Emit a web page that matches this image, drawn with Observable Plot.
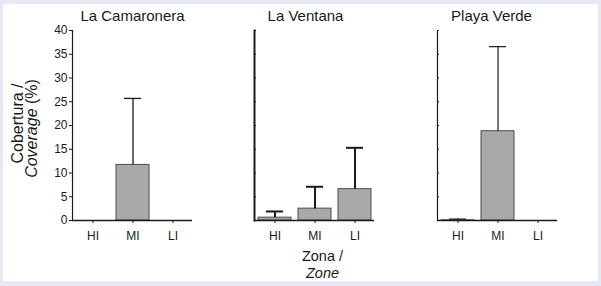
<!DOCTYPE html>
<html>
<head>
<meta charset="utf-8">
<script src="https://cdn.jsdelivr.net/npm/d3@7"></script>
<script src="https://cdn.jsdelivr.net/npm/@observablehq/plot@0.6"></script>
<style>
  html, body { margin: 0; padding: 0; }
  body { width: 601px; height: 286px; background: #e6e9f4; position: relative; overflow: hidden; }
  #inner { position: absolute; left: 3px; top: 4px; width: 595px; height: 277px; background: #ffffff; }
  .panel { position: absolute; top: 0; }
</style>
</head>
<body>
<div id="inner"></div>
<div id="p1" class="panel" style="left:0px"></div>
<div id="p2" class="panel" style="left:200px"></div>
<div id="p3" class="panel" style="left:382px"></div>
<script>
// ---- data ----
const zones = ["HI", "MI", "LI"];
const sites = ["La Camaronera", "La Ventana", "Playa Verde"];
const camaroneraMean  = [0, 11.7, 0];
const camaroneraUpper = [0, 25.7, 0];
const ventanaMean     = [0.6, 2.5, 6.6];
const ventanaUpper    = [1.9, 7.1, 15.3];
const playaMean       = [0.05, 18.8, 0];
const playaUpper      = [0.3, 36.6, 0];
const yTicks = [0, 5, 10, 15, 20, 25, 30, 35, 40];
const yLabel1 = "Cobertura /";
const yLabel2a = "Coverage";
const yLabel2b = " (%)";
const xLabel1 = "Zona /";
const xLabel2 = "Zone";

const FONT = "'Liberation Sans', Arial, Helvetica, sans-serif";
const INK = "#1a1a1a";

function rows(mean, upper) {
  return zones.map((z, i) => ({zone: z, mean: mean[i], upper: upper[i]}));
}

function makePanel({title, mean, upper, marginLeft, marginRight, labels, axisWidth, errWidth, titleDx, extra}) {
  const data = rows(mean, upper);
  const shown = data.filter(d => d.upper > 0);
  const bars = data.filter(d => d.mean > 0);
  const width = marginLeft + 120 + marginRight;
  const marks = [
    Plot.barY(bars, {x: "zone", y: "mean", fill: "#a9a9a9", stroke: "#4d4d4d", strokeWidth: 1}),
    Plot.ruleX(shown, {x: "zone", y1: "mean", y2: "upper", stroke: INK, strokeWidth: errWidth}),
    Plot.tickY(shown, {x: "zone", y: "upper", stroke: INK, strokeWidth: errWidth, insetLeft: 8, insetRight: 8}),
    Plot.frame({anchor: "left", stroke: INK, strokeWidth: axisWidth}),
    Plot.ruleY([0], {stroke: INK, strokeWidth: 1.5}),
    labels
      ? Plot.axisY({ticks: yTicks, tickSize: 3, tickPadding: 2, fontSize: 12, stroke: INK, fill: INK})
      : Plot.axisY({ticks: yTicks, tickSize: -2, tickFormat: () => "", stroke: INK}),
    Plot.axisX({tickSize: 3, tickPadding: 8, fontSize: 12, stroke: INK, fill: INK}),
    Plot.text([title], {frameAnchor: "top", lineAnchor: "middle", dy: -14, dx: titleDx, fontSize: 15, fill: INK}),
    ...(extra || [])
  ];
  return Plot.plot({
    width,
    height: 286,
    marginLeft,
    marginRight,
    marginTop: 30,
    marginBottom: 66,
    style: {background: "transparent", fontFamily: FONT, color: INK, overflow: "visible"},
    x: {domain: zones, paddingInner: 0.18, paddingOuter: 0.09, label: null, axis: null},
    y: {domain: [0, 40], label: null, axis: null},
    marks
  });
}

const p1 = makePanel({
  title: sites[0], mean: camaroneraMean, upper: camaroneraUpper,
  marginLeft: 72, marginRight: 8, labels: true, axisWidth: 1.2, errWidth: 1.3, titleDx: 0,
  extra: [
    Plot.text([yLabel1], {frameAnchor: "left", textAnchor: "middle", rotate: -90, dx: -55, dy: -2, lineAnchor: "middle", fontSize: 16, fill: INK}),
    Plot.text([yLabel2a + yLabel2b], {frameAnchor: "left", textAnchor: "middle", rotate: -90, dx: -41, dy: 3, lineAnchor: "middle", fontSize: 16, fill: INK, className: "ylab2"})
  ]
});
const p2 = makePanel({
  title: sites[1], mean: ventanaMean, upper: ventanaUpper,
  marginLeft: 54, marginRight: 8, labels: false, axisWidth: 2, errWidth: 2, titleDx: -9,
  extra: [
    Plot.text([xLabel1], {frameAnchor: "bottom", dy: 36, dx: 8, lineAnchor: "middle", fontSize: 14.5, fill: INK}),
    Plot.text([xLabel2], {frameAnchor: "bottom", dy: 53, dx: 8, lineAnchor: "middle", fontSize: 14.5, fontStyle: "italic", fill: INK})
  ]
});
const p3 = makePanel({
  title: sites[2], mean: playaMean, upper: playaUpper,
  marginLeft: 55, marginRight: 44, labels: false, axisWidth: 1.2, errWidth: 1.2, titleDx: -6
});

document.getElementById("p1").appendChild(p1);
document.getElementById("p2").appendChild(p2);
document.getElementById("p3").appendChild(p3);

// Mixed styling for the second y-axis label line: italic "Coverage" + normal " (%)"
d3.select(p1).selectAll("g.ylab2 text").each(function() {
  const t = d3.select(this);
  t.text(null);
  t.append("tspan").attr("font-style", "italic").text(yLabel2a);
  t.append("tspan").text(yLabel2b);
});
</script>
</body>
</html>
